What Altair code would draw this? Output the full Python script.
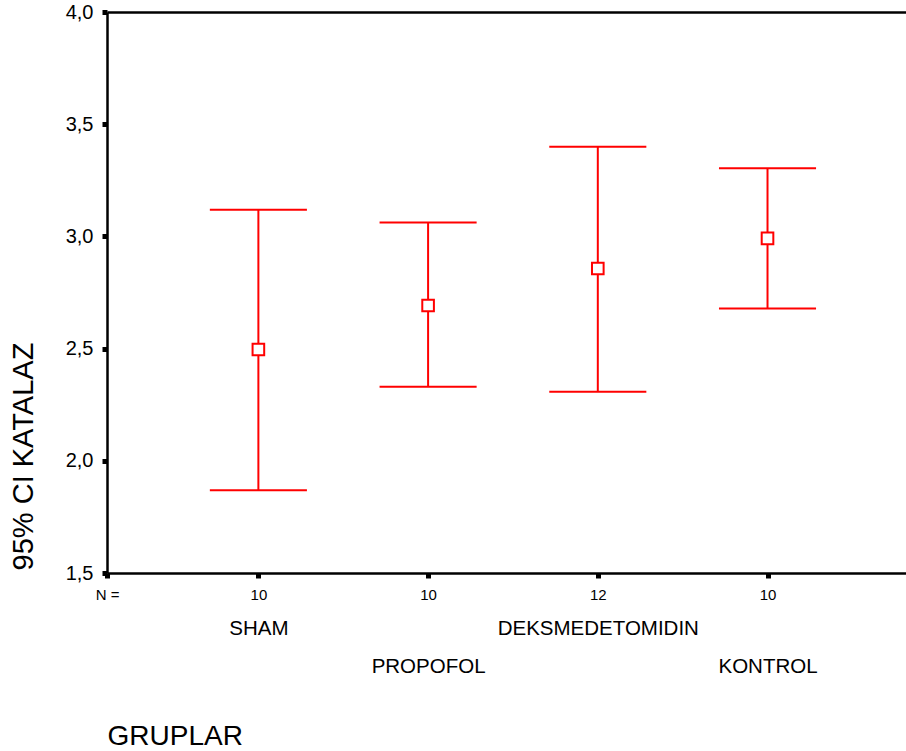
import altair as alt
import pandas as pd

groups = ["SHAM", "PROPOFOL", "DEKSMEDETOMIDIN", "KONTROL"]
n_counts = [10, 10, 12, 10]
means = [2.496, 2.692, 2.857, 2.991]
lower = [1.869, 2.330, 2.308, 2.679]
upper = [3.119, 3.062, 3.399, 3.304]
y_ticks = [1.5, 2.0, 2.5, 3.0, 3.5, 4.0]

df = pd.DataFrame({
    "group": groups,
    "pos": list(range(1, len(groups) + 1)),
    "n": n_counts,
    "mean": means,
    "lower": lower,
    "upper": upper,
})

X_MIN, X_MAX = 0.108, 4.816
CAP = 0.286
RED = "#ff0000"
FONT = "Liberation Sans"

x_scale = alt.Scale(domain=[X_MIN, X_MAX], nice=False, zero=False)
y_scale = alt.Scale(domain=[1.5, 4.0], nice=False, zero=False)

n_expr = "[" + ",".join(f"'{v}'" for v in n_counts) + "]"
g_expr = "[" + ",".join(f"'{g}'" for g in groups) + "]"

y_axis = alt.Axis(
    values=y_ticks,
    labelExpr="replace(format(datum.value, '.1f'), '.', ',')",
    title="95% CI KATALAZ",
    titleFont=FONT, titleFontSize=29, titleFontWeight="normal", titleColor="black",
    titleAngle=270, titleX=-75, titleY=444, titleAlign="center", titleBaseline="alphabetic",
    labelFont=FONT, labelFontSize=20, labelColor="black", labelPadding=9,
    tickSize=5, tickWidth=5, tickColor="black",
    domainColor="black", domainWidth=2.5, grid=False,
)

x_axis_n = alt.Axis(
    orient="bottom",
    values=[X_MIN, 1, 2, 3, 4],
    labelExpr=f"datum.value < 0.5 ? 'N =' : {n_expr}[round(datum.value) - 1]",
    labelFlush=False, labelOverlap=False,
    labelFont=FONT, labelFontSize=15, labelColor="black", labelPadding=9,
    tickSize=5, tickWidth=5, tickColor="black",
    domainColor="black", domainWidth=2.5, grid=False,
    title="GRUPLAR", titleFont=FONT, titleFontSize=28, titleFontWeight="normal",
    titleColor="black", titleX=0, titleY=171, titleAlign="left", titleBaseline="alphabetic",
)

x_axis_names = alt.Axis(
    orient="bottom",
    values=[1, 2, 3, 4],
    labelExpr=f"round(datum.value) % 2 == 1 ? [{g_expr}[round(datum.value) - 1]] : ['', {g_expr}[round(datum.value) - 1]]",
    labelFlush=False, labelOverlap=False, labelLimit=0,
    labelFont=FONT, labelFontSize=20.5, labelColor="black", labelPadding=45,
    labelLineHeight=38, labelBaseline="top",
    ticks=False, tickSize=0, domain=False, grid=False, title=None,
)

x_axis_top = alt.Axis(
    orient="top", values=[1], labels=False, ticks=False, grid=False, title=None,
    domainColor="black", domainWidth=2.5,
)

base = alt.Chart(df)

bars = base.mark_rule(color=RED, strokeWidth=2).encode(
    x=alt.X("pos:Q", scale=x_scale, axis=x_axis_n),
    y=alt.Y("lower:Q", scale=y_scale, axis=y_axis),
    y2="upper:Q",
)

caps_hi = base.transform_calculate(
    x_lo=f"datum.pos - {CAP}", x_hi=f"datum.pos + {CAP}"
).mark_rule(color=RED, strokeWidth=2).encode(
    x=alt.X("x_lo:Q", scale=x_scale, axis=x_axis_names),
    x2="x_hi:Q",
    y=alt.Y("upper:Q", scale=y_scale, axis=y_axis),
)

caps_lo = base.transform_calculate(
    x_lo=f"datum.pos - {CAP}", x_hi=f"datum.pos + {CAP}"
).mark_rule(color=RED, strokeWidth=2).encode(
    x=alt.X("x_lo:Q", scale=x_scale, axis=x_axis_top),
    x2="x_hi:Q",
    y=alt.Y("lower:Q", scale=y_scale, axis=y_axis),
)

points = base.mark_point(
    shape="square", filled=True, fill="white", stroke=RED, strokeWidth=2, size=135, opacity=1
).encode(
    x=alt.X("pos:Q", scale=x_scale, axis=None),
    y=alt.Y("mean:Q", scale=y_scale, axis=y_axis),
)

chart = alt.layer(bars, caps_hi, caps_lo, points).resolve_axis(x="independent").properties(
    width=799, height=561,
    padding={"left": 107, "top": 12, "right": 0, "bottom": 178},
    autosize=alt.AutoSizeParams(type="none"),
    background="white",
).configure_view(stroke=None)

chart.save("out.html", embed_options={"renderer": "svg", "actions": False})
